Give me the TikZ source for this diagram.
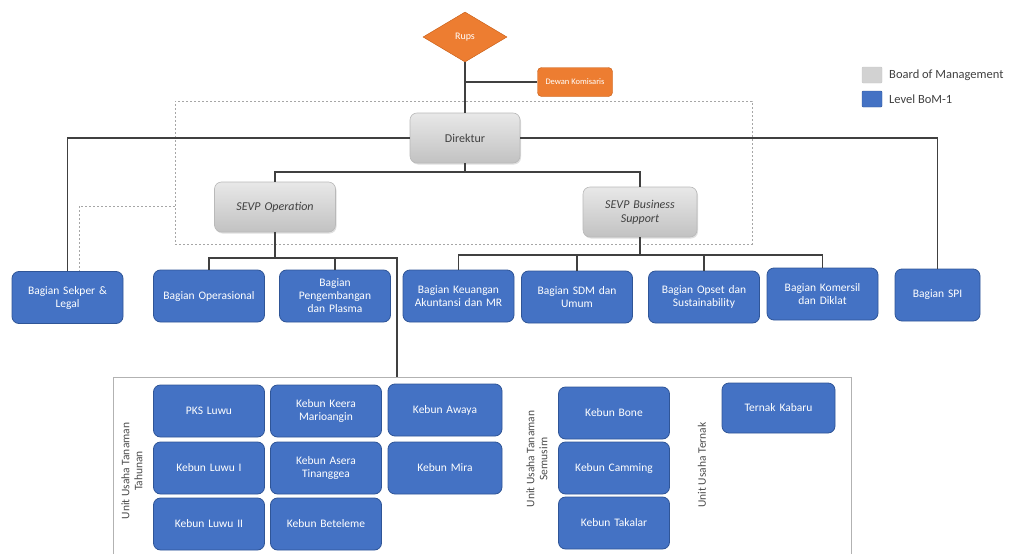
\documentclass[tikz,border=0pt]{standalone}
\usepackage{fontspec}
\setmainfont{Carlito}
\usetikzlibrary{shapes.geometric,shadows}
\definecolor{boxblue}{HTML}{4472C4}
\definecolor{boxedge}{HTML}{2F5597}
\definecolor{orfill}{HTML}{ED7D31}
\definecolor{oredge}{HTML}{C55A11}
\definecolor{linec}{HTML}{404040}
\tikzset{
  bluebox/.style={draw=boxedge, line width=0.8pt, fill=boxblue, rounded corners=7pt, text=white,
    font=\fontsize{11.5}{13}\selectfont, align=center, minimum width=111pt, minimum height=52pt, text width=106pt, inner sep=1pt},
  graybox/.style={draw=gray!55, line width=0.6pt, top color=gray!18, bottom color=gray!48, rounded corners=7pt,
    text=black!75, font=\fontsize{12}{14}\selectfont, align=center, minimum width=110pt, minimum height=50pt, text width=104pt, inner sep=1pt,
    drop shadow={shadow xshift=1pt, shadow yshift=-1.5pt, opacity=0.25}},
  conn/.style={draw=linec, line width=1.4pt},
  dotconn/.style={draw=gray!70, line width=0.9pt, dash pattern=on 2pt off 2pt},
  unitlabel/.style={rotate=90, align=center, text=black!70, font=\fontsize{11.5}{13}\selectfont},
  legendsq/.style={minimum width=20pt, minimum height=16pt, inner sep=0pt, rounded corners=1pt},
}
\begin{document}
\begin{tikzpicture}[x=1pt, y=-1pt]
\useasboundingbox (0,0) rectangle (1015,554);
% dashed Board of Management frame
\node[draw=gray!70, line width=0.9pt, dash pattern=on 2pt off 2pt, minimum width=577pt, minimum height=143pt, inner sep=0pt] (bom) at (463.5,172.5) {};
% unit frame
\node[draw=gray!60, line width=0.7pt, minimum width=738pt, minimum height=180pt, inner sep=0pt] (unitbox) at (482,467) {};

% top
\node[diamond, draw=oredge, fill=orfill, minimum width=84pt, minimum height=50pt, inner sep=0pt, text=white, font=\fontsize{10}{11}\selectfont] (rups) at (465,37) {Rups};
\node[draw=oredge, fill=orfill, rounded corners=4pt, minimum width=75pt, minimum height=29pt, inner sep=1pt, text=white, font=\fontsize{8.5}{10}\selectfont] (dekom) at (575,82) {Dewan Komisaris};

\node[graybox] (dir) at (465,138) {Direktur};
\node[graybox, minimum width=121pt, font=\fontsize{12}{14}\itshape] (sevpop) at (275,207) {SEVP Operation};
\node[graybox, minimum width=114pt, font=\fontsize{12}{14}\itshape] (sevpbs) at (640,212) {SEVP Business\\Support};

% legend
\node[legendsq, fill=gray!35, draw=gray!45] (lg1) at (872,75) {};
\node[anchor=west, text=black!75, font=\fontsize{12.5}{14}\selectfont, inner sep=0pt] (lt1) at (889,75) {Board of Management};
\node[legendsq, fill=boxblue, draw=boxedge] (lg2) at (872,99) {};
\node[anchor=west, text=black!75, font=\fontsize{12.5}{14}\selectfont, inner sep=0pt] (lt2) at (889,99) {Level BoM-1};

% Bagian row
\node[bluebox] (sekper) at (67.5,297.5) {Bagian Sekper \&\\Legal};
\node[bluebox] (ops) at (209,296) {Bagian Operasional};
\node[bluebox] (peng) at (335,296) {Bagian\\Pengembangan\\dan Plasma};
\node[bluebox] (keu) at (458.5,296) {Bagian Keuangan\\Akuntansi dan MR};
\node[bluebox] (sdm) at (577,297) {Bagian SDM dan\\Umum};
\node[bluebox] (opset) at (704,297) {Bagian Opset dan\\Sustainability};
\node[bluebox] (kom) at (822.5,294) {Bagian Komersil\\dan Diklat};
\node[bluebox, minimum width=85pt, text width=80pt] (spi) at (937.5,295) {Bagian SPI};

% units
\node[unitlabel] (ut1) at (132,471) {Unit Usaha Tanaman\\Tahunan};
\node[bluebox] (pks) at (209,411) {PKS Luwu};
\node[bluebox] (luwu1) at (209,468) {Kebun Luwu I};
\node[bluebox] (luwu2) at (209,524) {Kebun Luwu II};
\node[bluebox] (keera) at (326,411) {Kebun Keera\\Marioangin};
\node[bluebox] (asera) at (326,468) {Kebun Asera\\Tinanggea};
\node[bluebox] (betel) at (326,524) {Kebun Beteleme};
\node[bluebox, minimum width=114pt] (awaya) at (445,410) {Kebun Awaya};
\node[bluebox, minimum width=114pt] (mira) at (445,468) {Kebun Mira};
\node[unitlabel] (ut2) at (537,459) {Unit Usaha Tanaman\\Semusim};
\node[bluebox] (bone) at (614,413) {Kebun Bone};
\node[bluebox] (camm) at (614,468) {Kebun Camming};
\node[bluebox] (taka) at (614,523) {Kebun Takalar};
\node[unitlabel] (ut3) at (702,465) {Unit Usaha Ternak};
\node[bluebox, minimum width=113pt, minimum height=50pt] (kabaru) at (778.5,408) {Ternak Kabaru};

% connectors
\draw[conn] (rups.south) -- (dir.north);
\coordinate (jd) at (rups.south |- dekom.west);
\draw[conn] (jd) -- (dekom.west);
\draw[conn] (dir.west) -| (sekper.north);
\draw[conn] (dir.east) -| (spi.north);
\coordinate (j1) at (465,172);
\draw[conn] (dir.south) -- (j1);
\draw[conn] (sevpop.north) |- (j1) -| (sevpbs.north);
\coordinate (j2) at (275,258);
\coordinate (j3) at (397,258);
\draw[conn] (sevpop.south) -- (j2);
\draw[conn] (ops.north) |- (j3) -- (j3 |- unitbox.north);
\draw[conn] (peng.north) -- (peng.north |- j2);
\coordinate (j4) at (640,255);
\draw[conn] (sevpbs.south) -- (j4);
\draw[conn] (keu.north) |- (j4) -| (kom.north);
\draw[conn] (sdm.north) -- (sdm.north |- j4);
\draw[conn] (opset.north) -- (opset.north |- j4);
\coordinate (d1) at (79,206);
\draw[dotconn] (bom.west |- d1) -- (d1) -- (d1 |- sekper.north);
\end{tikzpicture}
\end{document}
